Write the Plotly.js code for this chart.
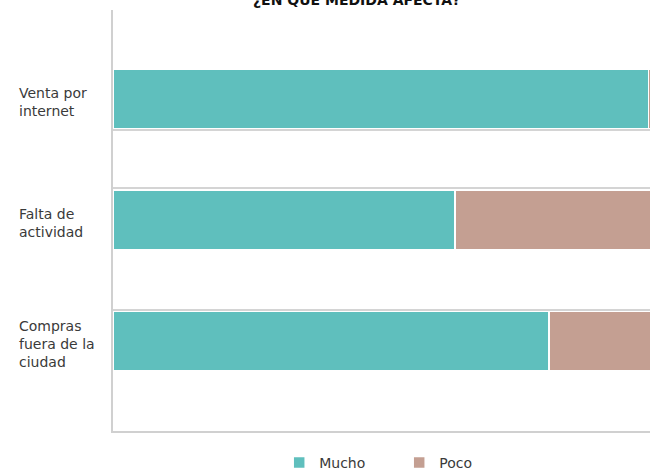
<!DOCTYPE html>
<html>
<head>
<meta charset="utf-8">
<script src="https://cdn.plot.ly/plotly-3.0.1.min.js"></script>
<style>html,body{margin:0;padding:0;background:#fff;overflow:hidden}</style>
</head>
<body>
<div id="chart" style="width:650px;height:468px"></div>
<script>
var categories = ["Venta por internet", "Falta de actividad", "Compras fuera de la ciudad"];
var categoryLabels = ["Venta por<br>internet", "Falta de<br>actividad", "Compras<br>fuera de la<br>ciudad"];
var mucho = [97, 62, 79];
var poco = [3, 38, 21];
var seriesNames = ["Mucho", "Poco"];
var titleText = "¿EN QUÉ MEDIDA AFECTA?";

var FONT = "DejaVu Sans, sans-serif";
var traces = [
  {type: "bar", orientation: "h", name: seriesNames[0], y: categories, x: mucho,
   marker: {color: "#5fbfbd", line: {color: "#ffffff", width: 1.5}}, width: 0.49, hoverinfo: "none"},
  {type: "bar", orientation: "h", name: seriesNames[1], y: categories, x: poco,
   marker: {color: "#c49f92", line: {color: "#ffffff", width: 1.5}}, width: 0.49, hoverinfo: "none"}
];

var annotations = categories.map(function (c, i) {
  return {xref: "paper", yref: "y", x: -0.179, y: c, text: categoryLabels[i],
          xanchor: "left", yanchor: "middle", align: "left", showarrow: false, yshift: -3,
          font: {family: FONT, size: 14, color: "#3a3a3a"}};
});
annotations.push({xref: "paper", yref: "paper", x: 0.454, y: 1.024, text: "<b>" + titleText + "</b>",
  xanchor: "center", yanchor: "middle", showarrow: false,
  font: {family: FONT, size: 14, color: "#111"}});

function hline(py) {
  var yp = (431 - py) / 421;
  return {type: "line", xref: "paper", yref: "paper", x0: 0, x1: 1, y0: yp, y1: yp,
          line: {color: "#d4d4d4", width: 2}, layer: "below"};
}

var layout = {
  width: 650, height: 468,
  margin: {l: 113, r: 0, t: 10, b: 37, pad: 0, autoexpand: false},
  paper_bgcolor: "#fff", plot_bgcolor: "#fff",
  barmode: "stack",
  showlegend: true,
  legend: {orientation: "h", x: 0.3095, xanchor: "left", y: -0.038, yanchor: "top",
           font: {family: FONT, size: 14, color: "#3a3a3a"}, entrywidth: 75, entrywidthmode: "pixels",
           traceorder: "normal"},
  xaxis: {range: [0, 97.3], showgrid: false, zeroline: false, showticklabels: false, ticks: "",
          showline: true, linecolor: "#d0d0d0", linewidth: 2, fixedrange: true},
  yaxis: {type: "category", range: [2.744, -0.7355], showgrid: false, zeroline: false,
          showticklabels: false, ticks: "", showline: true, linecolor: "#d0d0d0", linewidth: 2, fixedrange: true},
  shapes: [hline(130), hline(188), hline(310)],
  annotations: annotations
};

Plotly.newPlot("chart", traces, layout, {displayModeBar: false, staticPlot: true});
</script>
</body>
</html>
